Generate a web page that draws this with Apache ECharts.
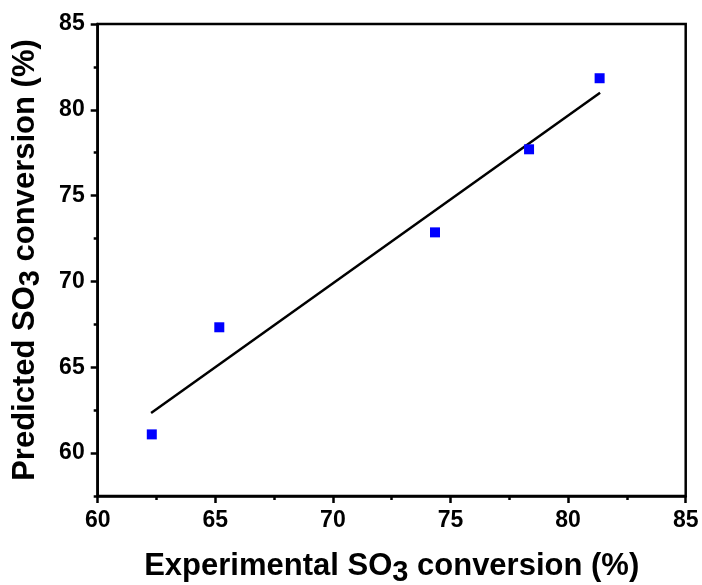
<!DOCTYPE html>
<html>
<head>
<meta charset="utf-8">
<script src="https://cdn.jsdelivr.net/npm/echarts@6/dist/echarts.min.js"></script>
<style>html,body{margin:0;padding:0;background:#fff}#c{width:702px;height:585px}</style>
</head>
<body>
<div id="c"></div>
<script>
var experimental = [62.30, 65.17, 74.34, 78.34, 81.34];
var predicted = [61.09, 67.33, 72.86, 77.70, 81.84];
var fitX = [62.27, 81.36];
var fitY = [62.33, 81.00];
var xTicks = [60, 65, 70, 75, 80, 85];
var yTicks = [60, 65, 70, 75, 80, 85];

var chart = echarts.init(document.getElementById('c'));
var font = 'Liberation Sans, Arial, sans-serif';
var pts = experimental.map(function (x, i) { return [x, predicted[i]]; });
var fit = fitX.map(function (x, i) { return [x, fitY[i]]; });
var nameRich = {
  a: { fontSize: 31, fontWeight: 'bold', fontFamily: font, color: '#000' },
  s: { fontSize: 29, fontWeight: 'bold', fontFamily: font, color: '#000', padding: [12, 0, 0, 0] }
};
var labelStyle = { color: '#000', fontSize: 23, fontWeight: 'bold', fontFamily: font, margin: 13 };

chart.setOption({
  animation: false,
  backgroundColor: '#fff',
  grid: { left: 97.7, right: 16.3, top: 24, bottom: 89, show: true, borderColor: '#000', borderWidth: 2.5,
          containLabel: false, outerBoundsMode: 'none' },
  xAxis: {
    type: 'value', min: 60, max: 85, interval: 5,
    name: '{a|Experimental SO}{s|3}{a| conversion (%)}',
    nameLocation: 'middle', nameGap: 50,
    nameTextStyle: { rich: nameRich },
    axisLine: { show: true, onZero: false, lineStyle: { color: '#000', width: 2.5 } },
    axisTick: { show: true, length: 7, customValues: xTicks, lineStyle: { color: '#000', width: 2.5 } },
    minorTick: { show: true, splitNumber: 2, length: 4, lineStyle: { color: '#000', width: 2.5 } },
    splitLine: { show: false },
    axisLabel: Object.assign({ customValues: xTicks, formatter: function (v) { return String(v); } }, labelStyle)
  },
  yAxis: [{
    type: 'value', min: 57.5, max: 85, interval: 2.5,
    name: '{a|Predicted SO}{s|3}{a| conversion (%)}',
    nameLocation: 'middle', nameGap: 52,
    nameTextStyle: { rich: nameRich },
    axisLine: { show: true, onZero: false, lineStyle: { color: '#000', width: 2.5 } },
    axisTick: { show: true, length: 7, customValues: yTicks, lineStyle: { color: '#000', width: 2.5 } },
    splitLine: { show: false },
    axisLabel: Object.assign({ customValues: yTicks, formatter: function (v) { return String(v); } }, labelStyle)
  }, {
    type: 'value', min: 57.5, max: 85, interval: 2.5, position: 'left', offset: 0,
    axisLine: { show: false },
    axisTick: { show: true, length: 4, lineStyle: { color: '#000', width: 2.5 } },
    axisLabel: { show: false },
    splitLine: { show: false }
  }],
  series: [
    { type: 'line', data: fit, symbol: 'none', lineStyle: { color: '#000', width: 2.5 }, z: 2 },
    { type: 'scatter', data: pts, symbol: 'rect', symbolSize: 10, itemStyle: { color: '#0000ff', opacity: 1 }, z: 3 }
  ]
});
</script>
</body>
</html>
